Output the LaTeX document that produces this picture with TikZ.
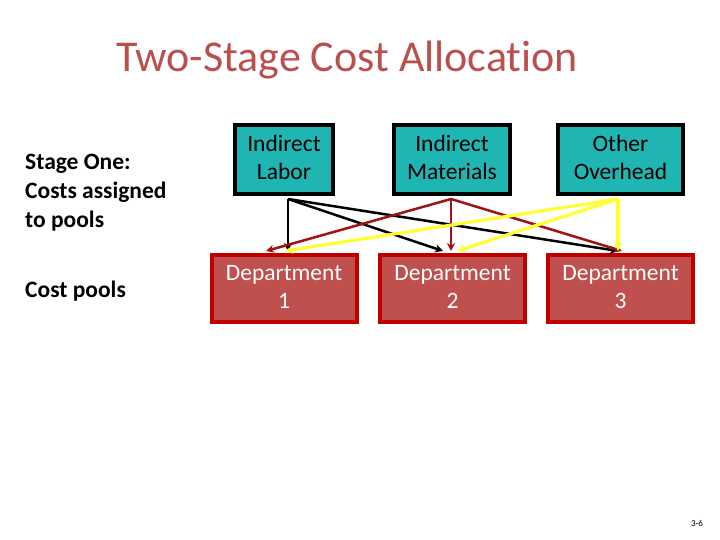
\documentclass[tikz,border=0pt]{standalone}
\usepackage{fontspec}
\setmainfont{Carlito}[Ligatures=NoCommon]
\usetikzlibrary{positioning,arrows.meta}
\definecolor{tittelrod}{HTML}{B9504E}
\definecolor{turkis}{HTML}{1FB5B3}
\definecolor{avdrod}{HTML}{C0504D}
\definecolor{kantrod}{HTML}{C00000}
\definecolor{pilrod}{HTML}{9E1414}
\definecolor{gul}{HTML}{FFFF33}
\begin{document}
\begin{tikzpicture}[%
x=1bp,y=-1bp,
kilde/.style={draw=black,fill=turkis,line width=4bp,minimum height=69bp,align=center,
  font=\fontsize{23.5bp}{28bp}\selectfont,inner sep=0pt},
avdeling/.style={draw=kantrod,fill=avdrod,line width=4bp,minimum height=67bp,minimum width=145bp,
  align=center,text=white,font=\fontsize{23.5bp}{28bp}\selectfont,inner sep=0pt},
tekst/.style={anchor=west,align=left,inner sep=0pt,font=\bfseries\fontsize{23.5bp}{29bp}\selectfont},
pil/.style={-{Stealth[length=8bp,width=8bp]},line width=2.5bp},
svart/.style={pil,black},
rod/.style={pil,pilrod},
gulpil/.style={pil,gul,line width=3.2bp}]
\useasboundingbox (0,0) rectangle (720,540);
\node (tittel) at (347,60) [text=tittelrod,font=\fontsize{44bp}{50bp}\selectfont] {Two-Stage Cost Allocation};
\node [tekst] (trinn) at (25,193) {Stage One:\\Costs assigned\\to pools};
\node [tekst] (pooler) at (25,291) {Cost pools};
\node [kilde,minimum width=98bp]  (arbeid)    at (284,159.5)   {\strut Indirect\\\strut Labor};
\node [kilde,minimum width=116bp] (materialer) at (452,159.5)  {\strut Indirect\\\strut Materials};
\node [kilde,minimum width=125bp] (overhead)  at (620.5,159.5) {\strut Other\\\strut Overhead};
\node [avdeling] (avd1) at (284,288.5)   {\strut Department\\\strut 1};
\node [avdeling] (avd2) at (452.5,288.5) {\strut Department\\\strut 2};
\node [avdeling] (avd3) at (620.5,288.5) {\strut Department\\\strut 3};
\node (side) at (697,523) [font=\fontsize{9bp}{10bp}\selectfont] {3-6};
% start- og endepunkter for pilene
\coordinate (a0) at (288,199);
\coordinate (m0) at (451,199);
\coordinate (o0) at (618,199);
\draw [svart] (a0) -- (288,251);
\draw [svart] (a0) -- (443,251);
\draw [svart] (a0) -- (618,251);
\draw [rod]   (m0) -- (266,251);
\draw [rod]   (m0) -- (451,251);
\draw [rod]   (m0) -- (622,251);
\draw [gulpil] (o0) -- (285,251);
\draw [gulpil] (o0) -- (457,251);
\draw [gulpil] (o0) -- (618,251);
\end{tikzpicture}
\end{document}
